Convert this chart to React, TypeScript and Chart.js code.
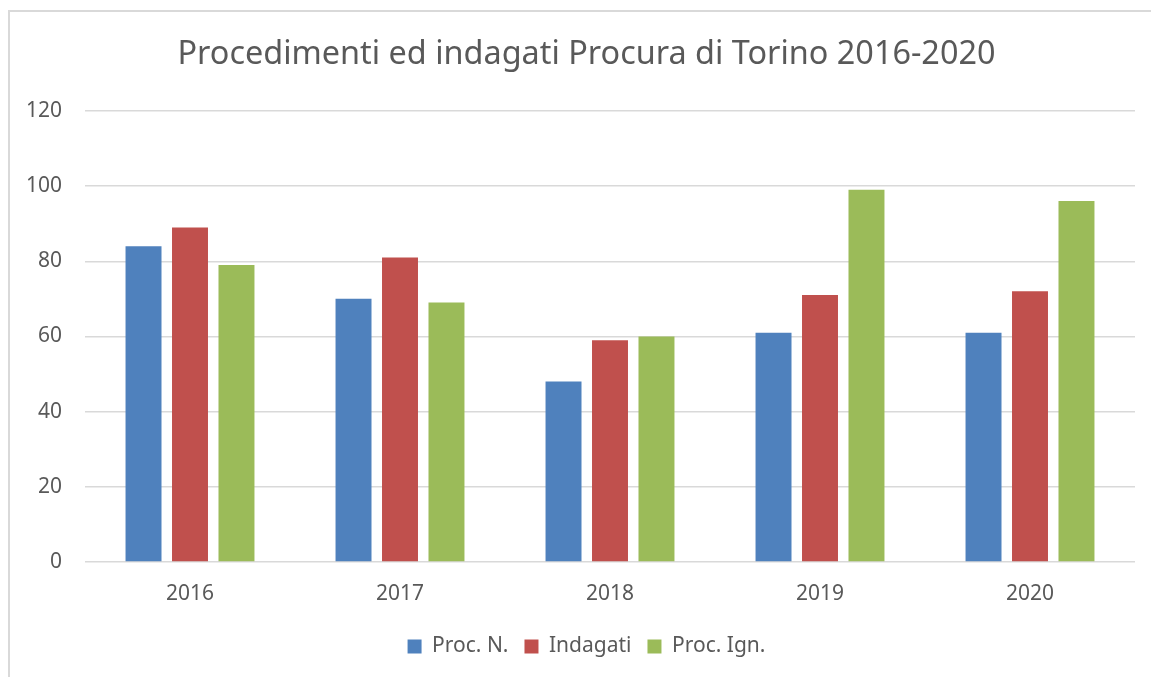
import React, { useEffect, useRef } from "react";
import { Chart, registerables } from "chart.js";

Chart.register(...registerables);

const categories = ["2016", "2017", "2018", "2019", "2020"];
const procN = [84, 70, 48, 61, 61];
const indagati = [89, 81, 59, 71, 72];
const procIgn = [79, 69, 60, 99, 96];
const yTicks = [0, 20, 40, 60, 80, 100, 120];

const FONT = "'Noto Sans', 'Open Sans', sans-serif";
const TEXT = "#595959";
const GRID = "#d9d9d9";

export default function App() {
  const ref = useRef<HTMLCanvasElement | null>(null);
  useEffect(() => {
    if (!ref.current) return;
    const chart = new Chart(ref.current, {
      type: "bar",
      data: {
        labels: categories,
        datasets: [
          { label: "Proc. N.", data: procN, backgroundColor: "#4f81bd" },
          { label: "Indagati", data: indagati, backgroundColor: "#c0504d" },
          { label: "Proc. Ign.", data: procIgn, backgroundColor: "#9bbb59" },
        ],
      },
      options: {
        responsive: false,
        animation: false,
        devicePixelRatio: 1,
        datasets: { bar: { categoryPercentage: 0.664, barPercentage: 0.774 } },
        layout: { padding: { left: 0, right: 0, top: 0, bottom: 45 } },
        plugins: {
          tooltip: { enabled: false },
          title: {
            display: true,
            text: "Procedimenti ed indagati Procura di Torino 2016-2020",
            color: TEXT,
            font: { family: FONT, size: 32.4, weight: "normal" },
            padding: { top: 23, bottom: 37 },
          },
          legend: {
            position: "bottom",
            labels: {
              color: TEXT,
              font: { family: FONT, size: 21 },
              boxWidth: 14,
              boxHeight: 14,
              padding: 16,
            },
          },
        },
        scales: {
          x: {
            grid: { display: false, drawTicks: false },
            border: { display: false },
            ticks: { color: TEXT, font: { family: FONT, size: 21 }, padding: 19 },
            afterFit: (s: any) => {
              s.height = 58;
            },
          },
          y: {
            min: 0,
            max: 120,
            afterBuildTicks: (s: any) => {
              s.ticks = yTicks.map((v) => ({ value: v }));
            },
            grid: { color: GRID, lineWidth: 1.5, drawTicks: false },
            border: { display: false },
            ticks: { color: TEXT, font: { family: FONT, size: 21 }, padding: 23 },
            afterFit: (s: any) => {
              s.width = 75;
            },
          },
          spacer: {
            type: "linear",
            position: "right",
            display: true,
            grid: { display: false, drawTicks: false },
            border: { display: false },
            ticks: { display: false },
            afterFit: (s: any) => {
              s.width = 28;
            },
          },
        },
      },
    });
    return () => chart.destroy();
  }, []);

  return (
    <div
      style={{
        position: "fixed",
        left: 0,
        top: 0,
        width: 1151,
        height: 677,
        overflow: "hidden",
        background: "#fff",
      }}
    >
      <div
        style={{
          position: "absolute",
          left: 8,
          top: 10,
          width: 1200,
          height: 800,
          borderLeft: "2px solid " + GRID,
          borderTop: "2px solid " + GRID,
        }}
      >
        <canvas ref={ref} width={1153} height={700} style={{ display: "block" }} />
      </div>
    </div>
  );
}
